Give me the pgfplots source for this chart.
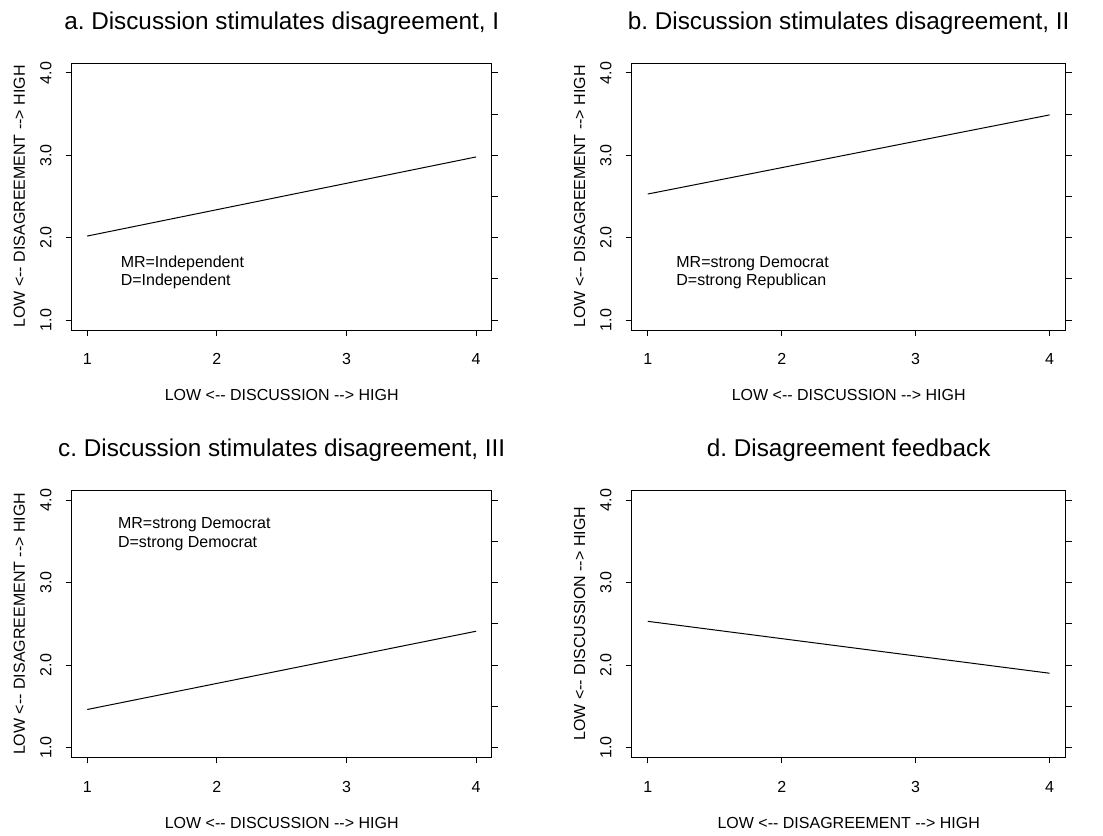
\documentclass[border=0pt]{standalone}
\usepackage{fontspec}
\setmainfont{Liberation Sans}
\usepackage{graphicx}
\usepackage{pgfplots}
\pgfplotsset{compat=1.18}
\frenchspacing
\newcommand\fs{\fontsize{16bp}{19.2bp}\selectfont}
\newcommand\la{<{-}{-}}
\newcommand\ra{{-}{-}>}
\newcommand\rl[1]{\rotatebox{90}{#1}}
\pgfplotsset{
  every axis title shift=0pt,
  rbase/.style={scale only axis, height=267bp, anchor=south west,
    xmin=0.88, xmax=4.12, ymin=0.88, ymax=4.12,
    axis line style={line width=0.9bp, black},
    every tick/.style={line width=0.9bp, black},
    major tick length=6bp, tick align=outside,
    /pgf/number format/assume math mode=true,
    tick label style={font=\fs, inner sep=0pt},
  },
  rmain/.style={rbase,
    xtick={1,2,3,4}, xticklabels={1,2,3,4}, xtick pos=left,
    ytick={1,2,3,4}, yticklabels={\rl{1.0},\rl{2.0},\rl{3.0},\rl{4.0}}, ytick pos=left,
    xticklabel style={anchor=base}, xticklabel shift=29bp,
    yticklabel style={anchor=east}, yticklabel shift=14bp,
    title style={font=\fontsize{24.3bp}{29bp}\selectfont, at={(axis description cs:0.5,1)}, anchor=base, yshift=33.4bp, inner sep=0pt},
    xlabel style={font=\fs, at={(axis description cs:0.5,0)}, anchor=base, yshift=-71bp, inner sep=0pt},
    ylabel style={font=\fs, anchor=base, inner sep=0pt},
  },
  rright/.style={rbase, xtick=\empty, ytick={1,1.5,...,4}, yticklabels={}, ytick pos=right, axis line style={draw=none}},
}
\tikzset{txt/.style={anchor=base west, inner sep=0pt, font=\fs}}
\begin{document}
\begin{tikzpicture}
\useasboundingbox (0,0) rectangle (1103bp,836bp);
% Panel a
\begin{axis}[rmain, at={(71.7bp,506bp)}, width=420bp,
  title={a. Discussion stimulates disagreement, I},
  xlabel={LOW \la{} DISCUSSION \ra{} HIGH},
  ylabel={LOW \la{} DISAGREEMENT \ra{} HIGH},
  ylabel style={at={(axis description cs:-0.1112,0.5)}}]
\addplot[black, line width=1bp] coordinates {(1,2.02) (4,2.98)};
\node[txt] at (axis cs:1.257,1.639) {MR=Independent};
\node[txt] at (axis cs:1.257,1.417) {D=Independent};
\end{axis}
\begin{axis}[rright, at={(71.7bp,506bp)}, width=420bp]
\addplot[draw=none] coordinates {(1,1)};
\end{axis}
% Panel b
\begin{axis}[rmain, at={(631.7bp,506bp)}, width=434bp,
  title={b. Discussion stimulates disagreement, II},
  xlabel={LOW \la{} DISCUSSION \ra{} HIGH},
  ylabel={LOW \la{} DISAGREEMENT \ra{} HIGH},
  ylabel style={at={(axis description cs:-0.1076,0.5)}}]
\addplot[black, line width=1bp] coordinates {(1,2.53) (4,3.49)};
\node[txt] at (axis cs:1.212,1.639) {MR=strong Democrat};
\node[txt] at (axis cs:1.212,1.417) {D=strong Republican};
\end{axis}
\begin{axis}[rright, at={(631.7bp,506bp)}, width=434bp]
\addplot[draw=none] coordinates {(1,1)};
\end{axis}
% Panel c
\begin{axis}[rmain, at={(71.7bp,78.7bp)}, width=420bp,
  title={c. Discussion stimulates disagreement, III},
  xlabel={LOW \la{} DISCUSSION \ra{} HIGH},
  ylabel={LOW \la{} DISAGREEMENT \ra{} HIGH},
  ylabel style={at={(axis description cs:-0.1112,0.5)}}]
\addplot[black, line width=1bp] coordinates {(1,1.46) (4,2.41)};
\node[txt] at (axis cs:1.236,3.657) {MR=strong Democrat};
\node[txt] at (axis cs:1.236,3.421) {D=strong Democrat};
\end{axis}
\begin{axis}[rright, at={(71.7bp,78.7bp)}, width=420bp]
\addplot[draw=none] coordinates {(1,1)};
\end{axis}
% Panel d
\begin{axis}[rmain, at={(631.7bp,78.7bp)}, width=434bp,
  title={d. Disagreement feedback},
  xlabel={LOW \la{} DISAGREEMENT \ra{} HIGH},
  ylabel={LOW \la{} DISCUSSION \ra{} HIGH},
  ylabel style={at={(axis description cs:-0.1076,0.5)}}]
\addplot[black, line width=1bp] coordinates {(1,2.53) (4,1.90)};
\end{axis}
\begin{axis}[rright, at={(631.7bp,78.7bp)}, width=434bp]
\addplot[draw=none] coordinates {(1,1)};
\end{axis}
\end{tikzpicture}
\end{document}
